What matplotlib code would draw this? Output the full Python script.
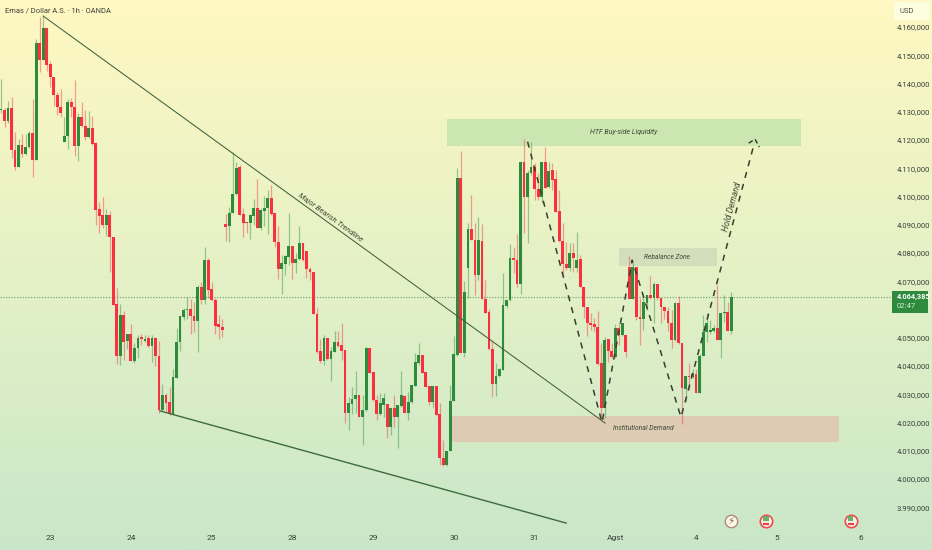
import matplotlib
matplotlib.use('Agg')
import matplotlib.pyplot as plt
import numpy as np
from matplotlib.colors import LinearSegmentedColormap
from matplotlib.patches import Rectangle

plt.rcParams['font.family'] = ['Roboto', 'DejaVu Sans']

# harga per jam
opens = [4130.7,4130.7,4126.9,4131.2,4116.5,4110.6,4118.3,4114.9,4117.4,4122.6,
 4112.9,4154.3,4148.4,4159.6,4146.8,4142.2,4135.9,4131.6,4119.4,4121.5,
 4133.6,4131.8,4117.9,4128.1,4124.8,4121.0,4124.3,4118.9,4095.5,4093.5,
 4089.9,4093.5,4085.8,4061.9,4043.5,4058.0,4048.8,4051.5,4041.7,4046.2,
 4050.1,4048.9,4049.8,4047.0,4050.0,4043.5,4024.4,4029.7,4027.2,4023.0,
 4035.7,4048.5,4057.2,4059.8,4060.3,4057.8,4056.0,4067.8,4063.3,4077.5,
 4067.1,4063.3,4054.7,4053.8,4090.3,4089.6,4094.0,4100.9,4110.6,4093.8,
 4091.1,4090.5,4093.1,4095.8,4089.0,4095.0,4096.0,4099.6,4094.0,4083.8,
 4074.3,4076.1,4078.7,4082.6,4076.3,4077.9,4083.7,4080.7,4074.3,4073.4,
 4058.3,4045.4,4041.9,4049.8,4042.4,4045.1,4048.6,4047.3,4045.7,4023.2,
 4026.4,4028.2,4029.7,4022.1,4024.4,4046.5,4037.8,4028.0,4023.0,4026.2,
 4026.4,4018.5,4025.0,4022.1,4026.0,4029.5,4023.5,4027.1,4033.0,4040.9,
 4043.9,4037.8,4032.9,4027.4,4032.9,4023.0,4007.3,4005.0,4010.0,4027.6,
 4043.9,4106.6,4044.7,4074.6,4088.5,4084.6,4072.2,4084.2,4063.6,4059.0,
 4045.9,4033.6,4036.6,4038.6,4061.3,4063.3,4078.1,4077.7,4069.0,4112.3,
 4099.9,4108.2,4110.5,4102.6,4099.7,4112.1,4103.2,4109.4,4106.1,4094.8,
 4084.2,4076.1,4074.6,4080.1,4074.6,4077.9,4068.1,4061.0,4055.1,4054.7,
 4053.9,4040.9,4025.3,4049.4,4045.4,4043.3,4053.5,4050.9,4050.9,4075.1,
 4063.6,4075.1,4057.2,4056.8,4062.4,4065.1,4063.9,4069.2,4063.9,4061.0,
 4059.4,4055.3,4049.2,4062.4,4048.0,4031.8,4036.4,4036.2,4037.0,4030.3,
 4043.5,4052.1,4052.1,4052.3,4053.6,4049.2,4058.8,4059.1,4052.4]

closes = [4131.1,4126.9,4131.2,4116.5,4110.6,4118.3,4114.9,4117.4,4122.6,4112.9,
 4154.3,4148.4,4159.6,4146.6,4142.2,4135.9,4131.6,4129.7,4121.5,4133.6,
 4131.8,4117.9,4128.3,4124.8,4121.0,4124.3,4118.6,4095.3,4093.1,4089.9,
 4093.5,4085.8,4061.6,4043.5,4058.0,4048.6,4051.5,4041.7,4046.4,4050.0,
 4049.6,4049.6,4047.0,4050.0,4043.5,4024.4,4029.7,4027.0,4023.0,4036.0,
 4048.5,4057.7,4059.8,4060.3,4057.7,4055.9,4067.8,4063.3,4077.5,4066.9,
 4063.3,4054.2,4053.8,4052.7,4089.3,4094.0,4100.9,4110.2,4093.5,4090.7,
 4090.5,4093.5,4095.8,4088.7,4095.2,4096.0,4099.6,4093.8,4083.8,4074.3,
 4076.3,4078.9,4082.6,4076.3,4077.9,4083.7,4077.5,4074.2,4073.2,4058.3,
 4045.1,4041.9,4049.8,4042.4,4045.3,4048.6,4047.1,4045.4,4023.2,4026.8,
 4028.2,4029.7,4022.1,4024.4,4046.5,4037.4,4028.0,4023.0,4026.8,4028.5,
 4018.5,4025.0,4022.1,4026.2,4029.7,4023.5,4027.4,4033.3,4041.5,4043.9,
 4037.6,4032.7,4027.4,4032.9,4022.6,4007.3,4005.0,4010.0,4027.6,4044.2,
 4106.6,4044.7,4066.3,4088.5,4084.6,4072.2,4084.6,4063.6,4058.6,4045.9,
 4033.6,4036.6,4038.8,4061.6,4063.3,4078.1,4077.5,4069.0,4112.3,4099.9,
 4108.2,4110.5,4102.6,4099.7,4112.1,4102.9,4109.1,4105.8,4094.6,4084.2,
 4076.1,4074.6,4080.1,4078.1,4077.5,4068.1,4061.0,4055.1,4054.5,4053.7,
 4040.7,4025.3,4049.2,4045.4,4043.3,4053.5,4050.9,4055.1,4045.0,4063.6,
 4075.1,4057.2,4056.7,4062.7,4065.1,4063.9,4069.2,4063.9,4061.0,4059.4,
 4055.3,4049.2,4062.4,4048.0,4032.1,4036.4,4036.0,4037.0,4030.3,4043.5,
 4052.1,4055.4,4052.7,4053.6,4049.2,4058.8,4059.1,4052.5,4064.3]

highs = [4141.5,4131.2,4133.8,4135.4,4123.0,4120.3,4122.0,4122.0,4123.2,4134.6,
 4155.8,4163.5,4163.9,4159.6,4148.0,4142.2,4137.1,4137.9,4128.3,4134.6,
 4134.8,4141.3,4129.5,4133.3,4130.7,4130.4,4128.5,4119.4,4098.2,4099.7,
 4095.5,4095.0,4085.8,4067.5,4061.9,4059.5,4051.5,4054.7,4048.0,4050.9,
 4051.5,4050.8,4050.9,4050.9,4050.3,4048.8,4033.8,4030.3,4032.4,4039.1,
 4053.6,4057.7,4060.7,4064.5,4063.6,4062.7,4068.6,4069.8,4082.0,4078.1,
 4069.8,4063.9,4058.0,4056.5,4093.8,4096.4,4115.9,4112.3,4111.2,4095.8,
 4091.1,4093.8,4099.1,4106.1,4095.8,4100.2,4102.3,4104.1,4094.0,4089.6,
 4079.3,4079.3,4094.0,4082.6,4079.9,4089.6,4083.7,4080.7,4074.9,4073.4,
 4060.4,4049.4,4051.0,4049.8,4046.8,4052.4,4052.4,4055.1,4045.7,4029.1,
 4032.4,4038.2,4029.7,4029.7,4046.8,4046.5,4037.8,4029.7,4030.3,4030.6,
 4026.4,4025.0,4029.7,4026.2,4038.2,4029.7,4030.9,4033.3,4044.5,4048.0,
 4043.9,4037.8,4032.9,4032.9,4032.9,4026.8,4013.8,4010.0,4033.3,4050.6,
 4110.0,4116.2,4070.1,4090.5,4100.5,4090.5,4092.8,4090.2,4070.4,4060.2,
 4049.2,4040.9,4039.2,4072.8,4063.3,4083.2,4082.2,4086.7,4112.7,4120.2,
 4109.4,4119.4,4111.7,4108.2,4112.3,4117.4,4112.3,4111.7,4109.4,4102.3,
 4090.5,4084.0,4083.4,4083.4,4087.5,4079.3,4068.1,4061.0,4058.6,4056.9,
 4059.4,4048.0,4050.4,4049.4,4048.0,4054.8,4055.1,4055.3,4050.9,4078.9,
 4076.5,4075.1,4063.9,4064.7,4065.1,4071.9,4069.8,4069.2,4063.9,4061.0,
 4061.0,4059.8,4062.7,4064.7,4048.0,4036.4,4040.9,4039.1,4039.1,4044.4,
 4058.0,4058.6,4056.2,4054.5,4068.6,4058.8,4065.1,4062.7,4066.3]

lows = [4129.5,4124.7,4125.9,4113.5,4109.4,4110.6,4114.1,4114.7,4117.1,4106.8,
 4112.9,4144.2,4148.4,4144.6,4138.7,4132.1,4128.9,4128.3,4119.4,4116.9,
 4128.3,4114.4,4112.4,4124.5,4120.0,4120.6,4118.3,4089.9,4087.2,4088.8,
 4086.1,4073.4,4061.6,4040.7,4040.3,4042.3,4045.9,4041.7,4040.9,4043.0,
 4047.4,4048.6,4046.8,4041.4,4040.0,4023.2,4024.0,4023.8,4022.6,4023.0,
 4035.7,4045.4,4056.2,4056.8,4051.5,4052.1,4045.0,4062.1,4062.1,4063.9,
 4063.1,4051.2,4049.6,4050.1,4084.2,4084.0,4094.0,4100.5,4093.5,4085.5,
 4087.0,4084.8,4089.9,4088.7,4088.1,4089.6,4086.7,4093.5,4082.0,4070.7,
 4065.5,4072.2,4075.8,4070.8,4073.0,4077.5,4077.3,4071.0,4070.4,4058.3,
 4044.5,4040.9,4040.4,4042.1,4034.8,4045.1,4046.8,4042.1,4019.7,4017.3,
 4023.0,4023.2,4022.1,4012.0,4024.2,4037.4,4027.7,4020.9,4022.7,4022.1,
 4014.4,4015.6,4018.5,4010.9,4025.6,4023.2,4020.9,4026.8,4033.0,4040.4,
 4037.4,4032.4,4026.2,4025.6,4022.6,4005.0,4004.6,4004.6,4010.0,4027.6,
 4043.5,4044.5,4043.3,4063.9,4084.6,4065.1,4070.4,4063.6,4058.6,4045.6,
 4028.9,4029.4,4036.2,4038.6,4060.4,4063.1,4072.8,4068.1,4065.5,4087.2,
 4083.4,4107.6,4098.7,4098.7,4097.6,4102.9,4102.9,4102.3,4094.6,4084.0,
 4071.0,4074.0,4073.7,4073.4,4073.1,4068.1,4056.9,4050.6,4052.7,4052.1,
 4040.3,4022.0,4021.5,4041.5,4043.0,4042.7,4047.4,4050.6,4043.3,4063.6,
 4063.6,4056.2,4047.4,4052.7,4059.8,4063.6,4055.1,4063.3,4055.1,4056.8,
 4052.5,4046.2,4048.9,4047.7,4019.3,4027.3,4031.5,4035.6,4030.3,4030.3,
 4043.5,4048.6,4051.5,4052.1,4049.2,4042.7,4055.7,4052.5,4051.3]

last_price = 4064.385

price_ticks = [3990, 4000, 4010, 4020, 4030, 4040, 4050, 4060, 4070, 4080, 4090,
               4100, 4110, 4120, 4130, 4140, 4150, 4160]
price_labels = ['3.990,000', '4.000,000', '4.010,000', '4.020,000', '4.030,000', '4.040,000',
                '4.050,000', '', '4.070,000', '4.080,000', '4.090,000', '4.100,000',
                '4.110,000', '4.120,000', '4.130,000', '4.140,000', '4.150,000', '4.160,000']
day_ticks = [14, 37, 60, 83, 106, 129, 152, 175, 198, 221, 245]
day_labels = ['23', '24', '25', '28', '29', '30', '31', 'Agst', '4', '5', '6']

# garis tren dan zona (bar, harga)
bear_trend_x = [12, 172.1]
bear_trend_y = [4163.9, 4019.8]
low_trend_x = [45.3, 161]
low_trend_y = [4024.1, 3984.4]
path_x = [150, 171.2, 179.8, 193.7, 214.4]
path_y = [4119.4, 4020, 4077.5, 4021.9, 4118]
arrow_x = [213, 214.8, 216]
arrow_y = [4118.9, 4120.3, 4117.5]

fig = plt.figure(figsize=(9.32, 5.5), dpi=100)
ax = fig.add_axes([0, 0, 1, 1])

xlim = (-0.285, 265.2)
ylim = (3974.87, 4169.56)

# latar gradasi
cmap = LinearSegmentedColormap.from_list('bg', ['#c9e7c9', '#e4f1c6', '#fff8c2'])
ax.imshow(np.linspace(1, 0, 256).reshape(-1, 1), aspect='auto', cmap=cmap,
          extent=(xlim[0], xlim[1], ylim[0], ylim[1]), zorder=0)
ax.set_xlim(xlim)
ax.set_ylim(ylim)

# zona
ax.add_patch(Rectangle((127.1, 4118.0), 100.9, 9.4, fc='#cce6b1', ec='none', zorder=1))
ax.add_patch(Rectangle((176.1, 4075.4), 27.9, 6.4, fc='#d2dfbd', ec='none', zorder=1))
ax.add_patch(Rectangle((128.5, 4013.0), 110.2, 9.4, fc='#ddcbb4', ec='none', zorder=1))

# harga terakhir
ax.plot([xlim[0], 254], [last_price, last_price], color='#6d9a6d', lw=0.8, ls=(0, (1, 1.5)), zorder=2)

# candlestick
x = np.arange(len(opens))
opens = np.array(opens)
closes = np.array(closes)
highs = np.array(highs)
lows = np.array(lows)
up = closes >= opens
colors = np.where(up, '#2c8c3c', '#f8303f')
ax.vlines(x, lows, highs, colors=colors, lw=0.9, alpha=0.45, zorder=3)
ax.bar(x, np.abs(closes - opens), bottom=np.minimum(opens, closes), width=0.8,
       color=colors, linewidth=0, zorder=4)

# garis
ax.plot(bear_trend_x, bear_trend_y, color='#41603f', lw=0.75, zorder=5)
ax.plot(low_trend_x, low_trend_y, color='#3d6b3d', lw=1.0, zorder=5)
ax.plot(path_x, path_y, color='#3c3c30', lw=1.1, ls=(0, (4, 4)), zorder=5)
ax.plot(arrow_x, arrow_y, color='#3c3c30', lw=1.1, ls=(0, (3, 2)), zorder=5)

# teks
note = dict(style='italic', color='#3f4a36', ha='center', va='center', zorder=6)
ax.text(177.5, 4122.8, 'HTF Buy-side Liquidity', fontsize=5.0, **note)
ax.text(189.7, 4078.6, 'Rebalance Zone', fontsize=4.8, **note)
ax.text(182.9, 4018, 'Institutional Demand', fontsize=4.9, **note)
ax.text(93.7, 4092.7, 'Major Bearish Trendline', fontsize=5.5, rotation=-36, rotation_mode='anchor', **note)
ax.text(208.4, 4096.3, 'Hold Demand', fontsize=6.2, rotation=75, rotation_mode='anchor', **note)
ax.text(0.005, 0.98, 'Emas / Dollar A.S. · 1h · OANDA', transform=ax.transAxes,
        fontsize=5.4, color='#3a4238', ha='left', va='center')

# sumbu
for s in ax.spines.values():
    s.set_visible(False)
ax.yaxis.tick_right()
ax.set_yticks(price_ticks)
ax.set_yticklabels(price_labels)
ax.tick_params(axis='y', length=0, pad=-25.5, labelsize=5.5, labelcolor='#37403a')
ax.set_xticks(day_ticks)
ax.set_xticklabels(day_labels)
ax.tick_params(axis='x', length=0, pad=-10.5, labelsize=6, labelcolor='#37403a')

# label USD dan harga
ax.add_patch(Rectangle((254.4, 4162.5), 10.3, 6.4, fc='#fdfde0', ec='none', zorder=6))
ax.text(255.8, 4165.7, 'USD', fontsize=5.5, color='#4a4f44', va='center', zorder=7)
ax.add_patch(Rectangle((253.8, 4058.9), 10.4, 7.6, fc='#2e8a3c', ec='none', zorder=6))
ax.text(255.1, 4064.385, '4.064,385', fontsize=5.3, color='white', va='center', fontweight='bold', zorder=7)
ax.text(255.1, 4061.2, '02:47', fontsize=5.5, color='#d8ecd8', va='center', zorder=7)

# ikon kalender
event_y = 3985.1
ax.scatter([207.9], [event_y], s=80, fc='#fbf8ea', ec='#b08a78', lw=1.0, zorder=6)
ax.text(207.9, event_y, '\u26a1', family='DejaVu Sans', fontsize=7.5, color='#8a5a44',
        ha='center', va='center', zorder=7)
flag_x = [217.9, 242]
ax.scatter(flag_x, [event_y] * 2, s=80, fc='#f6f3e4', ec='#ee4a50', lw=1.2, zorder=6)
ax.scatter(flag_x, [event_y + 0.9] * 2, s=14, marker='s', fc='#6cb070', ec='none', zorder=7)
ax.scatter(flag_x, [event_y - 1.2] * 2, s=18, marker='_', color='#e8434c', lw=1.6, zorder=7)

plt.savefig('out.png', dpi=100)
